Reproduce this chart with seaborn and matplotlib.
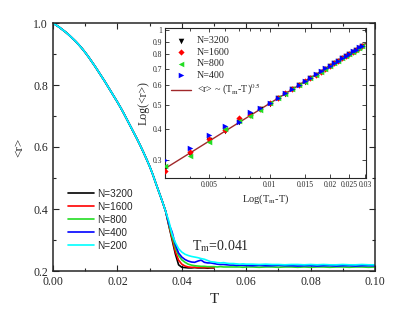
import numpy as np
import pandas as pd
import matplotlib
matplotlib.use("Agg")
import matplotlib.pyplot as plt
import seaborn as sns
from matplotlib.ticker import MultipleLocator, FixedLocator, FixedFormatter, NullLocator

# ---------------- data ----------------
# shared low-temperature part (T = 0.000 ... 0.035, step 0.001)
T_base = [round(0.001 * i, 3) for i in range(36)]
r_base = [1.000, 0.993, 0.986, 0.978, 0.970, 0.961, 0.951, 0.941, 0.930, 0.918,
          0.905, 0.891, 0.876, 0.861, 0.845, 0.829, 0.813, 0.796, 0.779, 0.762,
          0.745, 0.727, 0.708, 0.688, 0.668, 0.648, 0.628, 0.607, 0.585, 0.562,
          0.538, 0.511, 0.481, 0.452, 0.423, 0.392]

# tails for the large systems (T = 0.036 ... 0.050)
T_tail_short = [round(0.036 + 0.001 * i, 3) for i in range(15)]
r_3200 = [0.345, 0.300, 0.255, 0.220, 0.212, 0.211, 0.210, 0.210, 0.211, 0.210,
          0.210, 0.210, 0.209, 0.210, 0.210]
r_1600 = [0.348, 0.305, 0.262, 0.235, 0.222, 0.216, 0.213, 0.212, 0.212, 0.211,
          0.212, 0.211, 0.211, 0.211, 0.211]

# tails for the smaller systems (0.036 ... 0.060 step 0.001, 0.062 ... 0.100 step 0.002)
T_tail_long = [round(0.036 + 0.001 * i, 3) for i in range(25)] + \
              [round(0.062 + 0.002 * i, 3) for i in range(20)]
r_800 = [0.350, 0.312, 0.275, 0.250, 0.236, 0.228, 0.222, 0.219, 0.217, 0.216,
         0.215, 0.215, 0.214, 0.214, 0.214, 0.213, 0.214, 0.213, 0.213, 0.213,
         0.213, 0.213, 0.213, 0.212, 0.213,
         0.213, 0.212, 0.213, 0.213, 0.212, 0.213, 0.213, 0.212, 0.213, 0.212,
         0.213, 0.213, 0.212, 0.213, 0.213, 0.212, 0.213, 0.213, 0.212, 0.213]
r_400 = [0.352, 0.325, 0.285, 0.258, 0.245, 0.237, 0.232, 0.229, 0.228, 0.232,
         0.235, 0.228, 0.226, 0.226, 0.224, 0.222, 0.221, 0.221, 0.220, 0.219,
         0.219, 0.218, 0.219, 0.218, 0.218,
         0.217, 0.218, 0.217, 0.217, 0.218, 0.217, 0.217, 0.216, 0.217, 0.217,
         0.216, 0.217, 0.217, 0.216, 0.217, 0.217, 0.216, 0.217, 0.217, 0.217]
r_200 = [0.360, 0.318, 0.292, 0.272, 0.261, 0.254, 0.250, 0.247, 0.245, 0.243,
         0.240, 0.238, 0.234, 0.230, 0.229, 0.227, 0.226, 0.227, 0.225, 0.224,
         0.224, 0.223, 0.222, 0.223, 0.222,
         0.222, 0.221, 0.222, 0.221, 0.221, 0.220, 0.221, 0.221, 0.220, 0.221,
         0.220, 0.221, 0.220, 0.220, 0.221, 0.220, 0.220, 0.221, 0.220, 0.220]

sizes = ["N=3200", "N=1600", "N=800", "N=400", "N=200"]
line_colors = ["#000000", "#ff0000", "#22dd22", "#0000ff", "#00ffff"]
T_m = 0.041

# inset: log-log scaling data, x = T_m - T
inset_x = [round(0.003 + 0.001 * i, 3) for i in range(27)]
inset_3200 = [0.280, 0.318, 0.362, 0.395, 0.426, 0.456, 0.482, 0.507, 0.533, 0.556,
              0.579, 0.601, 0.622, 0.642, 0.662, 0.682, 0.700, 0.718, 0.736, 0.753,
              0.770, 0.787, 0.803, 0.819, 0.835, 0.850, 0.865]
inset_1600 = [0.272, 0.325, 0.365, 0.397, 0.443, 0.458, 0.484, 0.510, 0.534, 0.557,
              0.580, 0.602, 0.623, 0.643, 0.663, 0.682, 0.701, 0.719, 0.736, 0.754,
              0.771, 0.787, 0.804, 0.820, 0.835, 0.851, 0.866]
inset_800 = [0.286, 0.313, 0.356, 0.400, 0.430, 0.452, 0.480, 0.508, 0.532, 0.555,
             0.578, 0.600, 0.622, 0.642, 0.662, 0.681, 0.700, 0.718, 0.735, 0.753,
             0.770, 0.786, 0.803, 0.819, 0.834, 0.850, 0.865]
inset_400 = [0.300, 0.336, 0.378, 0.412, 0.428, 0.469, 0.486, 0.511, 0.535, 0.558,
             0.581, 0.603, 0.624, 0.644, 0.664, 0.683, 0.702, 0.720, 0.737, 0.755,
             0.772, 0.788, 0.805, 0.821, 0.836, 0.852, 0.867]
inset_sizes = ["N=3200", "N=1600", "N=800", "N=400"]
inset_markers = ["v", "D", "<", ">"]
inset_marker_sizes = [16, 10, 16, 16]
inset_colors = ["#000000", "#ff0000", "#22dd22", "#0000ff"]
fit_amp = 5.08
fit_exp = 0.5
fit_xrange = [0.003, 0.0303]
fit_color = "#a0282a"

# ---------------- style ----------------
sns.set_style("ticks")
plt.rcParams["font.family"] = ["Liberation Serif", "DejaVu Serif"]
plt.rcParams["mathtext.fontset"] = "stix"

fig = plt.figure(figsize=(4.15, 3.19), dpi=100)
ax = fig.add_axes([53 / 415, 48 / 319, 322 / 415, 248 / 319])

# build long-form frame
rows = []
series_T = [T_base + T_tail_short, T_base + T_tail_short,
            T_base + T_tail_long, T_base + T_tail_long, T_base + T_tail_long]
series_r = [r_base + r_3200, r_base + r_1600, r_base + r_800,
            r_base + r_400, r_base + r_200]
for name, Ts, rs in zip(sizes, series_T, series_r):
    for t, r in zip(Ts, rs):
        rows.append({"N": name, "T": t, "r": r})
df = pd.DataFrame(rows)

for name, col in zip(sizes, line_colors):
    sns.lineplot(data=df[df["N"] == name], x="T", y="r", color=col, lw=1.2,
                 label=name, ax=ax, estimator=None, sort=False)

ax.set_xlim(0.0, 0.1)
ax.set_ylim(0.2, 1.0)
ax.xaxis.set_major_locator(MultipleLocator(0.02))
ax.xaxis.set_minor_locator(MultipleLocator(0.01))
ax.yaxis.set_major_locator(MultipleLocator(0.2))
ax.yaxis.set_minor_locator(MultipleLocator(0.1))
ax.xaxis.set_major_formatter(matplotlib.ticker.FormatStrFormatter("%.2f"))
ax.yaxis.set_major_formatter(matplotlib.ticker.FormatStrFormatter("%.1f"))
ax.tick_params(which="both", direction="in", top=True, right=True, labelsize=8.5,
               width=0.8)
ax.tick_params(which="major", length=4)
ax.tick_params(which="minor", length=2.5)
for s in ax.spines.values():
    s.set_linewidth(1.1)
ax.set_xlabel("T", fontsize=11, labelpad=4)
ax.set_ylabel("<r>", fontsize=9.5, labelpad=6)

leg = ax.legend(loc="lower left", bbox_to_anchor=(0.035, 0.065), frameon=False,
                prop={"family": "Liberation Sans", "size": 7.2},
                handlelength=2.6, handletextpad=0.3, labelspacing=0.3,
                borderaxespad=0.0)

ax.text(0.0432, 0.268, r"T$_{\rm m}$=0.041", fontsize=10, va="baseline", ha="left")

# ---------------- inset ----------------
axin = fig.add_axes([165 / 415, (319 - 178) / 319, 201 / 415, 150 / 319])
fit_x = np.geomspace(fit_xrange[0], fit_xrange[1], 50)
fit_y = fit_amp * fit_x ** fit_exp
fit_line, = axin.plot(fit_x, fit_y, color=fit_color, lw=1.0, zorder=1,
                      label=r"<r> ~ (T$_{\rm m}$-T)$^{0.5}$")

inset_vals = [inset_3200, inset_1600, inset_800, inset_400]
for name, vals, mk, ms, col in zip(inset_sizes, inset_vals, inset_markers,
                                   inset_marker_sizes, inset_colors):
    sns.scatterplot(x=inset_x, y=vals, marker=mk, color=col, s=ms, linewidth=0,
                    ax=axin, zorder=3, label=name)
axin.set_xscale("log")
axin.set_yscale("log")
axin.set_xlim(0.003, 0.0303)
axin.set_ylim(0.255, 1.02)

xt = [0.005, 0.01, 0.015, 0.02, 0.025, 0.03]
axin.xaxis.set_major_locator(FixedLocator(xt))
axin.xaxis.set_major_formatter(FixedFormatter(["0.005", "0.01", "0.015", "0.02", "0.025", "0.03"]))
axin.xaxis.set_minor_locator(FixedLocator([0.004, 0.006, 0.007, 0.008, 0.009]))
yt = [0.3, 0.4, 0.5, 0.6, 0.7, 0.8, 0.9, 1.0]
axin.yaxis.set_major_locator(FixedLocator(yt))
axin.yaxis.set_major_formatter(FixedFormatter(["0.3", "0.4", "0.5", "0.6", "0.7", "0.8", "0.9", "1"]))
axin.yaxis.set_minor_locator(NullLocator())
axin.tick_params(which="both", direction="in", top=True, right=True, labelsize=5.5,
                 width=0.6, pad=2)
axin.tick_params(which="major", length=3)
axin.tick_params(which="minor", length=1.8)
for s in axin.spines.values():
    s.set_linewidth(0.8)
axin.set_xlabel(r"Log(T$_{\rm m}$-T)", fontsize=7.5, labelpad=3)
axin.set_ylabel("Log(<r>)", fontsize=8.5, labelpad=2)

h, l = axin.get_legend_handles_labels()
order = [l.index(n) for n in inset_sizes] + [l.index(fit_line.get_label())]
axin.legend([h[i] for i in order], [l[i] for i in order], loc="upper left",
            bbox_to_anchor=(0.0, 0.985), frameon=False, fontsize=7.2,
            handlelength=2.0, handletextpad=0.6, labelspacing=0.25,
            borderaxespad=0.2, markerscale=1.0)

fig.savefig("out.png", dpi=100)
